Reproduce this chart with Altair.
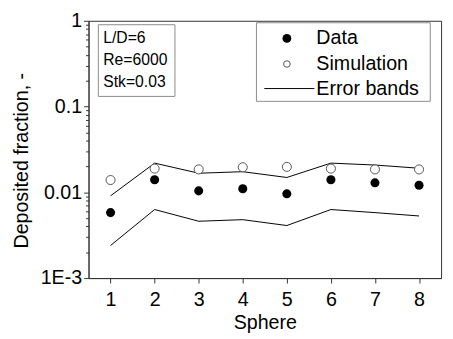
import altair as alt
import pandas as pd

# ---- data ----
spheres = [1, 2, 3, 4, 5, 6, 7, 8]
data_vals = [0.0058, 0.0140, 0.0104, 0.0110, 0.0096, 0.0140, 0.0129, 0.0121]
sim_vals = [0.0139, 0.0189, 0.0185, 0.0196, 0.0198, 0.0189, 0.0185, 0.0185]
upper_band = [0.0091, 0.0219, 0.0167, 0.0174, 0.0149, 0.0219, 0.0208, 0.0191]
lower_band = [0.0024, 0.0063, 0.0046, 0.0048, 0.0041, 0.0063, 0.0058, 0.0053]

y_major = [0.001, 0.01, 0.1, 1]
y_major_labels = ["1E-3", "0.01", "0.1", "1"]
x_major = [1, 2, 3, 4, 5, 6, 7, 8]
info_lines = ["L/D=6", "Re=6000", "Stk=0.03"]
legend_labels = ["Data", "Simulation", "Error bands"]

FONT = "Liberation Sans"

points = pd.DataFrame({"sphere": spheres, "data": data_vals, "sim": sim_vals})
bands = pd.DataFrame({
    "sphere": spheres + spheres,
    "value": upper_band + lower_band,
    "band": ["upper"] * len(spheres) + ["lower"] * len(spheres),
})

# tick positions (major + minor)
y_ticks = []
for m in y_major[:-1]:
    for k in range(1, 10):
        y_ticks.append(round(m * k, 6))
y_ticks.append(y_major[-1])
x_ticks = []
for v in x_major:
    x_ticks.append(v)
    if v != x_major[-1]:
        x_ticks.append(v + 0.5)

label_expr_y = "''"
for v, lab in zip(y_major, y_major_labels):
    label_expr_y = f"abs(datum.value - {v}) < {v}*1e-6 ? '{lab}' : ({label_expr_y})"

is_major_y = "abs(log(datum.value)/LN10 - round(log(datum.value)/LN10)) < 1e-6"
is_major_x = "datum.value % 1 == 0"

x_scale = alt.Scale(domain=[0.5, 8.5], nice=False, zero=False)
y_scale = alt.Scale(type="log", domain=[0.001, 1], nice=False)

x_axis = alt.Axis(
    values=x_ticks, labelExpr=f"{is_major_x} ? datum.value : ''",
    tickSize={"condition": {"test": is_major_x, "value": 5}, "value": 3},
    grid=False, title="Sphere", labelFontSize=20, titleFontSize=20,
    labelPadding=7, titleFontWeight="normal", titleY=51,
    titleBaseline="alphabetic", labelFlush=False, labelOverlap=False,
)
y_axis = alt.Axis(
    values=y_ticks, labelExpr=label_expr_y,
    tickSize={"condition": {"test": is_major_y, "value": 5}, "value": 3},
    grid=False, title="Deposited fraction, -", labelFontSize=20, titleFontSize=20,
    labelPadding=2, titleFontWeight="normal", titleX=-62, titleY=142,
    titleBaseline="alphabetic", titleAngle=270, labelFlush=False, labelOverlap=False,
)

lines = alt.Chart(bands).mark_line(color="black", strokeWidth=1).encode(
    x=alt.X("sphere:Q", scale=x_scale, axis=x_axis),
    y=alt.Y("value:Q", scale=y_scale, axis=y_axis),
    detail="band:N",
)
sim = alt.Chart(points).mark_point(
    shape="circle", filled=False, fill="white", fillOpacity=1, stroke="#555",
    strokeWidth=1, size=85, opacity=1,
).encode(x=alt.X("sphere:Q", scale=x_scale), y=alt.Y("sim:Q", scale=y_scale))
dat = alt.Chart(points).mark_point(
    shape="circle", filled=True, color="black", size=85, opacity=1,
).encode(x=alt.X("sphere:Q", scale=x_scale), y=alt.Y("data:Q", scale=y_scale))

one = pd.DataFrame({"k": [0]})

def box(x1, x2, y1, y2):
    return alt.Chart(one).mark_rect(fill="white", stroke="#8a8a8a", strokeWidth=1).encode(
        x=alt.value(x1), x2=alt.value(x2), y=alt.value(y1), y2=alt.value(y2))

def label(txt, x, y, size):
    return alt.Chart(one).mark_text(
        text=txt, align="left", baseline="middle", fontSize=size, font=FONT, color="black"
    ).encode(x=alt.value(x), y=alt.value(y))

info_box = box(10, 88, 4, 77)
info_text = [label(t, 15, 18 + 22 * i, 16) for i, t in enumerate(info_lines)]

leg_box = box(171, 348, 2, 82)
leg_text = [label(t, 232, 18 + 26 * i, 20) for i, t in enumerate(legend_labels)]
leg_dot = alt.Chart(one).mark_point(shape="circle", filled=True, color="black", size=80, opacity=1).encode(
    x=alt.value(202), y=alt.value(18))
leg_open = alt.Chart(one).mark_point(shape="circle", filled=False, stroke="#555", strokeWidth=1, size=45, opacity=1).encode(
    x=alt.value(202), y=alt.value(44))
leg_line = alt.Chart(one).mark_rule(color="black", strokeWidth=1).encode(
    x=alt.value(179), x2=alt.value(230), y=alt.value(69))

chart = alt.layer(
    lines, sim, dat, info_box, *info_text, leg_box, leg_dot, leg_open, leg_line, *leg_text
).properties(
    width=359, height=262,
    autosize=alt.AutoSizeParams(type="none"),
    padding={"left": 82, "top": 10, "right": 4, "bottom": 59},
).configure(font=FONT).configure_view(
    stroke="#333", strokeWidth=1
).configure_axis(
    domainColor="#333", tickColor="#333", labelColor="black", titleColor="black",
    labelFont=FONT, titleFont=FONT,
)

chart.save("out.html", embed_options={"renderer": "svg", "actions": False})
